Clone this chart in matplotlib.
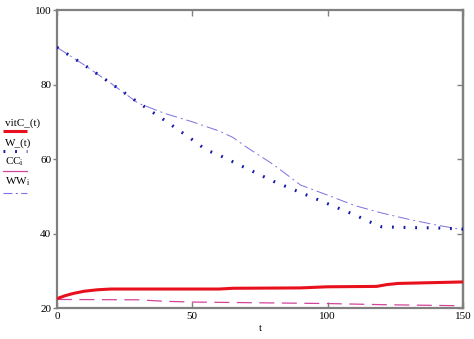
import matplotlib
matplotlib.use("Agg")
import matplotlib.pyplot as plt
from matplotlib.lines import Line2D

# values
t_vit = [0, 3, 6, 10, 15, 20, 40, 60, 65, 90, 100, 118, 122, 126, 138, 150]
vitC = [22.5, 23.3, 23.9, 24.5, 24.9, 25.1, 25.1, 25.1, 25.3, 25.4, 25.7, 25.8, 26.3, 26.6, 26.8, 27.0]

t_w = [0, 10, 20, 30, 40, 50, 55, 60, 70, 80, 90, 100, 110, 118, 120, 130, 140, 150]
W = [90, 85.3, 80.3, 75.2, 70.3, 65.2, 62.5, 61.0, 57.5, 54.0, 51.0, 48.0, 45.0, 42.3, 41.8, 41.6, 41.5, 41.2]

t_cc = [0, 30, 40, 50, 100, 120, 150]
CC = [22.3, 22.2, 21.8, 21.6, 21.2, 20.9, 20.6]

t_ww = [0, 10, 20, 30, 40, 50, 60, 65, 70, 80, 90, 100, 110, 120, 130, 140, 150]
WW = [90, 85.3, 80.3, 75.0, 72.2, 70.0, 67.5, 65.8, 63.2, 58.5, 53.0, 50.3, 47.5, 45.5, 43.8, 42.3, 41.0]

x_ticks = [0, 50, 100, 150]
y_ticks = [20, 40, 60, 80, 100]

serif = "Liberation Serif"
plt.rcParams["font.family"] = serif
plt.rcParams["mathtext.fontset"] = "custom"
plt.rcParams["mathtext.rm"] = serif
plt.rcParams["mathtext.it"] = serif

red = "#e8101c"
blue = "#1a1aa8"
pink = "#d2449a"
violet = "#7a70e0"
grey = "#808080"

fig = plt.figure(figsize=(4.74, 3.39), dpi=100)
ax = fig.add_axes([0.120, 0.0914, 0.857, 0.879])

ax.plot(t_ww, WW, color=violet, lw=0.7, linestyle=(0, (12, 4, 2, 4)), zorder=2)
ax.plot(t_cc, CC, color=pink, lw=0.9, linestyle=(0, (12, 6)), zorder=2)
ax.plot(t_vit, vitC, color=red, lw=2.2, solid_capstyle="butt", zorder=3)
ax.plot(t_w, W, color=blue, lw=2.2, linestyle=(0, (0.6, 3.2)), zorder=4)

ax.set_xlim(0, 150)
ax.set_ylim(20, 100)
ax.set_xticks(x_ticks)
ax.set_yticks(y_ticks)
ax.set_xticklabels([str(v) for v in x_ticks])
ax.set_yticklabels([str(v) for v in y_ticks])

for s in ax.spines.values():
    s.set_color(grey)
    s.set_linewidth(1.6)
ax.tick_params(axis="x", direction="in", length=4, color=grey, width=1, labelsize=8, pad=3, top=True)
ax.tick_params(axis="y", direction="out", length=3, color=grey, width=1, labelsize=8, pad=1)

# inward ticks on the right edge, no labels
sec = ax.secondary_yaxis("right")
sec.set_yticks(y_ticks)
sec.tick_params(direction="in", length=4, color=grey, width=1, labelright=False)
sec.spines["right"].set_color(grey)
sec.spines["right"].set_linewidth(1.6)

ax.set_xlabel("t", fontsize=8, labelpad=2)

# legend drawn on the left like the original
W_px, H_px = 474.0, 339.0
def fy(p):
    return 1 - p / H_px

labels = ["vitC_(t)", "W_(t)", r"$\mathregular{CC_i}$", r"$\mathregular{WW_i}$"]
text_y = [123, 143, 162, 182]
line_y = [131, 151, 171, 193]
styles = [
    dict(color=red, lw=2.2, solid_capstyle="butt"),
    dict(color=blue, lw=2.2, linestyle=(0, (0.6, 3.2))),
    dict(color=pink, lw=0.9),
    dict(color=violet, lw=0.8, linestyle=(0, (8, 3, 2, 3))),
]
for lab, ty, ly, st in zip(labels, text_y, line_y, styles):
    fig.text(5 / W_px, fy(ty), lab, fontsize=8, va="center", ha="left")
    fig.add_artist(Line2D([3 / W_px, 27 / W_px], [fy(ly), fy(ly)], **st))

fig.savefig("out.png", dpi=100)
